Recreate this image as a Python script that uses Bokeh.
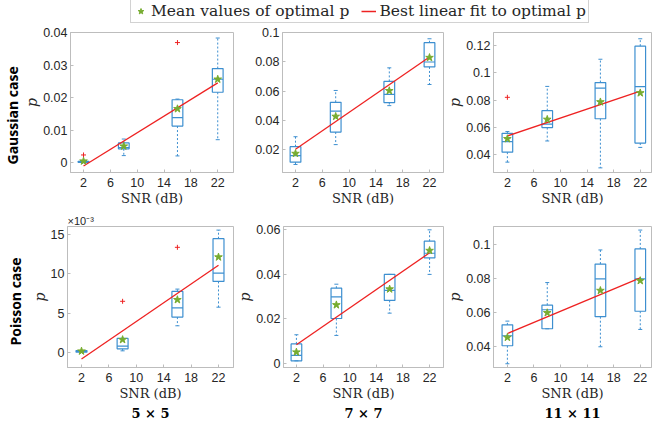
from bokeh.plotting import figure
from bokeh.models import (Range1d, FixedTicker, CustomJSTickFormatter, Title,
                          Legend, LegendItem, ColumnDataSource)
from bokeh.transform import dodge
from bokeh.layouts import row, column
from bokeh.embed import file_html
from bokeh.resources import INLINE

# ---------------- data ----------------
SNR = [2, 8, 16, 22]
XTICKS = [2, 6, 10, 14, 18, 22]
FIT_X = [2, 22]

# Gaussian case, 5x5
g5_q1 = [0.0001, 0.0043, 0.0113, 0.0217]
g5_med = [0.0002, 0.0047, 0.0139, 0.0257]
g5_q3 = [0.0004, 0.0061, 0.0194, 0.0290]
g5_lo = [0.0000, 0.0022, 0.0021, 0.0071]
g5_hi = [0.0006, 0.0073, 0.0196, 0.0384]
g5_mean = [0.0005, 0.0051, 0.0166, 0.0257]
g5_out_x = [2, 16]
g5_out_y = [0.0024, 0.0370]
g5_fit = [-0.0010, 0.0246]

# Gaussian case, 7x7
g7_q1 = [0.0114, 0.0320, 0.0522, 0.0766]
g7_med = [0.0159, 0.0463, 0.0578, 0.0800]
g7_q3 = [0.0220, 0.0524, 0.0667, 0.0932]
g7_lo = [0.0098, 0.0234, 0.0501, 0.0646]
g7_hi = [0.0288, 0.0605, 0.0760, 0.0959]
g7_mean = [0.0173, 0.0427, 0.0603, 0.0830]
g7_out_x = []
g7_out_y = []
g7_fit = [0.0202, 0.0834]

# Gaussian case, 11x11
g11_q1 = [0.0418, 0.0598, 0.0663, 0.0485]
g11_med = [0.0496, 0.0623, 0.0887, 0.0898]
g11_q3 = [0.0556, 0.0722, 0.0928, 0.1195]
g11_lo = [0.0345, 0.0500, 0.0303, 0.0453]
g11_hi = [0.0569, 0.0900, 0.1099, 0.1249]
g11_mean = [0.0516, 0.0658, 0.0786, 0.0852]
g11_out_x = [2]
g11_out_y = [0.0820]
g11_fit = [0.0537, 0.0866]

# Poisson case, 5x5
p5_q1 = [0.00000, 0.00043, 0.00448, 0.00904]
p5_med = [0.00010, 0.00077, 0.00567, 0.01010]
p5_q3 = [0.00020, 0.00175, 0.00776, 0.01450]
p5_lo = [0.00000, 0.00017, 0.00337, 0.00575]
p5_hi = [0.00020, 0.00175, 0.00806, 0.01560]
p5_mean = [0.00013, 0.00160, 0.00670, 0.01215]
p5_out_x = [8, 16]
p5_out_y = [0.00650, 0.01340]
p5_fit = [-0.00088, 0.01110]

# Poisson case, 7x7
p7_q1 = [0.0012, 0.0202, 0.0283, 0.0474]
p7_med = [0.0036, 0.0299, 0.0328, 0.0495]
p7_q3 = [0.0088, 0.0338, 0.0400, 0.0549]
p7_lo = [0.0012, 0.0126, 0.0226, 0.0400]
p7_hi = [0.0129, 0.0356, 0.0400, 0.0600]
p7_mean = [0.0051, 0.0263, 0.0334, 0.0507]
p7_out_x = []
p7_out_y = []
p7_fit = [0.0084, 0.0497]

# Poisson case, 11x11
p11_q1 = [0.0406, 0.0506, 0.0577, 0.0609]
p11_med = [0.0465, 0.0618, 0.0800, 0.0800]
p11_q3 = [0.0529, 0.0645, 0.0887, 0.0976]
p11_lo = [0.0300, 0.0506, 0.0400, 0.0502]
p11_hi = [0.0551, 0.0778, 0.0970, 0.1087]
p11_mean = [0.0455, 0.0600, 0.0731, 0.0789]
p11_out_x = []
p11_out_y = []
p11_fit = [0.0478, 0.0806]

ROW_LABELS = ["Gaussian case", "Poisson case"]
COL_LABELS = ["5 × 5", "7 × 7", "11 × 11"]
LEGEND_LABELS = ["Mean values of optimal p", "Best linear fit to optimal p"]
Y_LABEL = "p"

# ---------------- styles ----------------
BLUE = "#3d8fd0"
GREEN = "#77AC30"
RED = "#ee2222"
AXC = "#bdbdbd"
TXT = "#262626"
BOX_W = 1.6
CAP = 0.3


def fmt_plain():
    return CustomJSTickFormatter(code="return String(parseFloat(tick.toFixed(4)));")


def fmt_milli():
    return CustomJSTickFormatter(code="return String(Math.round(tick*1000));")


def panel(w, h, ml, mr, mt, mb, xr, yr, yticks, fmt, has_ylabel, d):
    p = figure(width=w, height=h, x_range=Range1d(*xr), y_range=Range1d(*yr),
               toolbar_location=None, output_backend="svg", title=None,
               min_border_left=ml, min_border_right=mr,
               min_border_top=mt, min_border_bottom=mb)
    p.outline_line_color = AXC
    p.outline_line_width = 1
    p.grid.visible = False
    p.background_fill_color = "white"
    p.border_fill_color = "white"

    p.xaxis.ticker = FixedTicker(ticks=XTICKS)
    p.yaxis.ticker = FixedTicker(ticks=yticks)
    p.yaxis.formatter = fmt
    for ax in p.axis:
        ax.axis_line_color = AXC
        ax.major_tick_line_color = AXC
        ax.major_tick_in = 3
        ax.major_tick_out = 0
        ax.minor_tick_line_color = None
        ax.major_label_text_font = "Liberation Sans"
        ax.major_label_text_font_size = "12.5px"
        ax.major_label_text_color = TXT
    p.xaxis.major_label_standoff = 5
    p.yaxis.major_label_standoff = 3
    p.xaxis.axis_label = "SNR (dB)"
    p.xaxis.axis_label_text_font = "DejaVu Serif"
    p.xaxis.axis_label_text_font_size = "13px"
    p.xaxis.axis_label_text_font_style = "normal"
    p.xaxis.axis_label_text_color = TXT
    p.xaxis.axis_label_standoff = 1
    if has_ylabel:
        p.yaxis.axis_label = Y_LABEL
        p.yaxis.axis_label_text_font = "DejaVu Serif"
        p.yaxis.axis_label_text_font_size = "14px"
        p.yaxis.axis_label_text_font_style = "italic"
        p.yaxis.axis_label_text_color = TXT
        p.yaxis.axis_label_standoff = 0

    src = ColumnDataSource(dict(x=SNR, q1=d["q1"], med=d["med"], q3=d["q3"],
                                lo=d["lo"], hi=d["hi"], mean=d["mean"]))
    p.segment(x0="x", x1="x", y0="q3", y1="hi", source=src, line_color=BLUE,
              line_width=1, line_dash="2 2")
    p.segment(x0="x", x1="x", y0="q1", y1="lo", source=src, line_color=BLUE,
              line_width=1, line_dash="2 2")
    p.segment(x0=dodge("x", -CAP), x1=dodge("x", CAP), y0="hi", y1="hi",
              source=src, line_color=BLUE, line_width=1)
    p.segment(x0=dodge("x", -CAP), x1=dodge("x", CAP), y0="lo", y1="lo",
              source=src, line_color=BLUE, line_width=1)
    p.vbar(x="x", width=BOX_W, bottom="q1", top="q3", source=src,
           fill_color=None, line_color=BLUE, line_width=1.2)
    p.segment(x0=dodge("x", -BOX_W / 2), x1=dodge("x", BOX_W / 2), y0="med",
              y1="med", source=src, line_color=BLUE, line_width=1.2)
    p.scatter(d["out_x"], d["out_y"], marker="cross", size=5, line_color=RED,
              line_width=1)
    p.line(FIT_X, d["fit"], line_color=RED, line_width=1.3)
    p.scatter("x", "mean", source=src, marker="star", size=8,
              fill_color=GREEN, line_color=GREEN)
    return p


def pack(q1, med, q3, lo, hi, mean, ox, oy, fit):
    return dict(q1=q1, med=med, q3=q3, lo=lo, hi=hi, mean=mean,
                out_x=ox, out_y=oy, fit=fit)


G5 = pack(g5_q1, g5_med, g5_q3, g5_lo, g5_hi, g5_mean, g5_out_x, g5_out_y, g5_fit)
G7 = pack(g7_q1, g7_med, g7_q3, g7_lo, g7_hi, g7_mean, g7_out_x, g7_out_y, g7_fit)
G11 = pack(g11_q1, g11_med, g11_q3, g11_lo, g11_hi, g11_mean, g11_out_x, g11_out_y, g11_fit)
P5 = pack(p5_q1, p5_med, p5_q3, p5_lo, p5_hi, p5_mean, p5_out_x, p5_out_y, p5_fit)
P7 = pack(p7_q1, p7_med, p7_q3, p7_lo, p7_hi, p7_mean, p7_out_x, p7_out_y, p7_fit)
P11 = pack(p11_q1, p11_med, p11_q3, p11_lo, p11_hi, p11_mean, p11_out_x, p11_out_y, p11_fit)

# row 1 (Gaussian)
H1, MT1, MB1 = 182, 6, 35
a1 = panel(234, H1, 70, 1, MT1, MB1, (0.06, 24.35), (-0.003, 0.0401),
           [0, 0.01, 0.02, 0.03, 0.04], fmt_plain(), True, G5)
a2 = panel(210, H1, 48, 1, MT1, MB1, (0.06, 24.09), (0.0043, 0.1002),
           [0.02, 0.04, 0.06, 0.08, 0.1], fmt_plain(), False, G7)
a3 = panel(208, H1, 48, 1, MT1, MB1, (-0.09, 23.69), (0.0269, 0.1295),
           [0.04, 0.06, 0.08, 0.1, 0.12], fmt_plain(), True, G11)

# row 2 (Poisson)
H2, MT2, MB2 = 213, 18, 54
b1 = panel(234, H2, 67, 1, MT2, MB2, (-0.044, 24.19), (-0.00196, 0.01606),
           [0, 0.005, 0.01, 0.015], fmt_milli(), True, P5)
b2 = panel(210, H2, 48, 1, MT2, MB2, (0.06, 24.09), (-0.0018, 0.0615),
           [0, 0.02, 0.04, 0.06], fmt_plain(), True, P7)
b3 = panel(208, H2, 48, 1, MT2, MB2, (-0.09, 23.69), (0.0278, 0.1108),
           [0.04, 0.06, 0.08, 0.1], fmt_plain(), True, P11)

# exponent label of the Poisson 5x5 axis
b1.add_layout(Title(text="×10⁻³", align="left", offset=0, standoff=0,
                    text_font="Liberation Sans", text_font_size="11px",
                    text_font_style="normal", text_color=TXT), "above")

# row labels
a1.add_layout(Title(text=ROW_LABELS[0], align="left", offset=8, standoff=0,
                    text_font="Open Sans", text_font_size="14px",
                    text_font_style="bold", text_color="black"), "left")
b1.add_layout(Title(text=ROW_LABELS[1], align="left", offset=22, standoff=7,
                    text_font="Open Sans", text_font_size="14px",
                    text_font_style="bold", text_color="black"), "left")

# column labels
for fig, lab in zip([b1, b2, b3], COL_LABELS):
    fig.add_layout(Title(text=lab, align="center", standoff=0,
                         text_font="DejaVu Serif", text_font_size="13px",
                         text_font_style="bold", text_color="black"), "below")

# legend strip (the key renderers sit outside the visible range)
lf = figure(width=652, height=26, toolbar_location=None, output_backend="svg",
            title=None, x_range=Range1d(0, 1), y_range=Range1d(0, 1),
            x_axis_type=None, y_axis_type=None, min_border=0)
lf.outline_line_color = None
lf.background_fill_color = "white"
r_star = lf.scatter(x=[-5], y=[-5], marker="star", size=8, fill_color=GREEN,
                    line_color=GREEN)
r_line = lf.line(x=[-5, -4], y=[-5, -5], line_color=RED, line_width=1.5)
leg = Legend(items=[LegendItem(label=LEGEND_LABELS[0], renderers=[r_star]),
                    LegendItem(label=LEGEND_LABELS[1], renderers=[r_line])],
             orientation="horizontal", location=(130, 3), margin=0,
             padding=2, spacing=12, glyph_width=15, glyph_height=16,
             label_standoff=3, label_height=16,
             label_text_font="DejaVu Serif", label_text_font_size="15.5px",
             label_text_color=TXT, border_line_color="#a6a6a6",
             background_fill_color="white", background_fill_alpha=1)
lf.add_layout(leg)

layout = column(lf, row(a1, a2, a3), row(b1, b2, b3))

with open("out.html", "w") as f:
    f.write(file_html(layout, INLINE))
